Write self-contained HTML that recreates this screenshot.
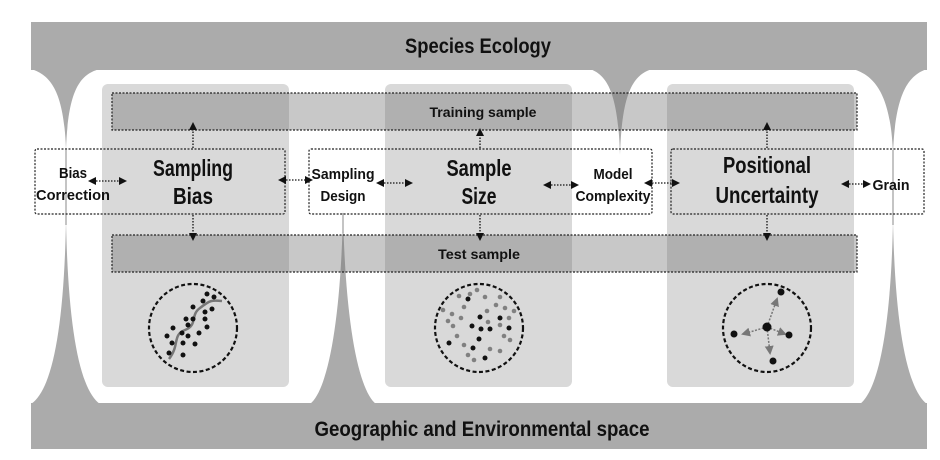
<!DOCTYPE html>
<html><head><meta charset="utf-8"><style>
html,body{margin:0;padding:0;background:#fff;width:940px;height:460px;overflow:hidden}
text{font-family:"Liberation Sans",sans-serif;font-weight:bold;fill:#111}
</style></head><body>
<svg width="940" height="460" viewBox="0 0 940 460" xmlns="http://www.w3.org/2000/svg">
<defs>
<marker id="ah" markerWidth="8" markerHeight="8" refX="6" refY="4" orient="auto-start-reverse" markerUnits="userSpaceOnUse">
<path d="M0,0 L8,4 L0,8 Z" fill="#111"/></marker>
<marker id="gh" markerWidth="9" markerHeight="9" refX="7" refY="4.5" orient="auto" markerUnits="userSpaceOnUse">
<path d="M0,0 L9,4.5 L0,9 Z" fill="#777"/></marker>
</defs>
<rect x="0" y="0" width="940" height="460" fill="#fff"/>
<g fill="#ababab" stroke="none">
<rect x="31" y="22" width="896" height="48"/>
<rect x="31" y="403" width="896" height="46"/>
<path d="M31,69 C50,75 64,90 66,150 C68,90 80,74 100,69 Z"/>
<path d="M31,404 C52,390 64,330 66,220 C68,330 80,390 100,404 Z"/>
<path d="M310,404 C328,390 341,320 343,210 C345,320 358,390 376,404 Z"/>
<path d="M590,69 C606,75 618,90 620,155 C622,90 634,75 652,69 Z"/>
<path d="M853,69 C872,75 891,90 893,155 C895,90 910,75 927,69 Z"/>
<path d="M860,404 C878,390 891,330 893,220 C895,330 908,390 927,404 Z"/>
<rect x="65.3" y="150" width="1.4" height="75"/>
<rect x="342.3" y="213" width="1.4" height="20"/>
<rect x="892.3" y="150" width="1.4" height="75"/>
</g>
<g fill="#d9d9d9">
<rect x="102" y="84" width="187" height="303" rx="6"/>
<rect x="385" y="84" width="187" height="303" rx="6"/>
<rect x="667" y="84" width="187" height="303" rx="6"/>
</g>
<g fill="rgba(110,110,110,0.38)" stroke="#222" stroke-width="1.2" stroke-dasharray="2,1.5">
<rect x="112" y="93" width="745" height="37"/>
<rect x="112" y="235" width="745" height="37"/>
</g>
<text x="483" y="117" font-size="14" text-anchor="middle" textLength="107" lengthAdjust="spacingAndGlyphs">Training sample</text>
<text x="479" y="259" font-size="14" text-anchor="middle" textLength="82" lengthAdjust="spacingAndGlyphs">Test sample</text>
<g fill="none" stroke="#222" stroke-width="1.2" stroke-dasharray="2,1.5">
<rect x="35" y="149" width="250" height="65" rx="2"/>
<rect x="309" y="149" width="343" height="65" rx="2"/>
<rect x="671" y="149" width="253" height="65" rx="2"/>
</g>
<text x="478" y="53" font-size="21" text-anchor="middle" textLength="146" lengthAdjust="spacingAndGlyphs">Species Ecology</text>
<text x="482" y="436" font-size="21" text-anchor="middle" textLength="335" lengthAdjust="spacingAndGlyphs">Geographic and Environmental space</text>
<text x="193" y="176" font-size="23" text-anchor="middle" textLength="80" lengthAdjust="spacingAndGlyphs">Sampling</text>
<text x="193" y="204" font-size="23" text-anchor="middle" textLength="40" lengthAdjust="spacingAndGlyphs">Bias</text>
<text x="479" y="176" font-size="23" text-anchor="middle" textLength="65" lengthAdjust="spacingAndGlyphs">Sample</text>
<text x="479" y="204" font-size="23" text-anchor="middle" textLength="35" lengthAdjust="spacingAndGlyphs">Size</text>
<text x="767" y="173" font-size="23" text-anchor="middle" textLength="88" lengthAdjust="spacingAndGlyphs">Positional</text>
<text x="767" y="203" font-size="23" text-anchor="middle" textLength="103" lengthAdjust="spacingAndGlyphs">Uncertainty</text>
<text x="73" y="178" font-size="15" text-anchor="middle" textLength="28" lengthAdjust="spacingAndGlyphs">Bias</text>
<text x="73" y="200" font-size="15" text-anchor="middle" textLength="74" lengthAdjust="spacingAndGlyphs">Correction</text>
<text x="343" y="179" font-size="15" text-anchor="middle" textLength="63" lengthAdjust="spacingAndGlyphs">Sampling</text>
<text x="343" y="201" font-size="15" text-anchor="middle" textLength="45" lengthAdjust="spacingAndGlyphs">Design</text>
<text x="613" y="179" font-size="15" text-anchor="middle" textLength="39" lengthAdjust="spacingAndGlyphs">Model</text>
<text x="613" y="201" font-size="15" text-anchor="middle" textLength="75" lengthAdjust="spacingAndGlyphs">Complexity</text>
<text x="891" y="190" font-size="15" text-anchor="middle" textLength="37" lengthAdjust="spacingAndGlyphs">Grain</text>
<g stroke="#111" stroke-width="1.3" stroke-dasharray="1.5,1.5" fill="none" marker-start="url(#ah)" marker-end="url(#ah)">
<line x1="90" y1="181" x2="125" y2="181"/>
<line x1="280" y1="180" x2="311" y2="180"/>
<line x1="378" y1="183" x2="411" y2="183"/>
<line x1="545" y1="185" x2="577" y2="185"/>
<line x1="646" y1="183" x2="678" y2="183"/>
<line x1="843" y1="184" x2="869" y2="184"/>
</g>
<g stroke="#111" stroke-width="1.3" stroke-dasharray="1.5,1.5" fill="none" marker-end="url(#ah)">
<line x1="193" y1="148" x2="193" y2="124"/>
<line x1="480" y1="148" x2="480" y2="130"/>
<line x1="767" y1="148" x2="767" y2="124"/>
<line x1="193" y1="215" x2="193" y2="239"/>
<line x1="480" y1="215" x2="480" y2="239"/>
<line x1="767" y1="215" x2="767" y2="239"/>
</g>
<g fill="none" stroke="#111" stroke-width="2.2" stroke-dasharray="4,2.5">
<circle cx="193" cy="328" r="44"/>
<circle cx="479" cy="328" r="44"/>
<circle cx="767" cy="328" r="44"/>
</g>
<path d="M169,359 C180,345 172,335 185,330 C198,325 190,315 200,308 C210,300 212,300 222,301" fill="none" stroke="#777" stroke-width="2.5"/>
<g fill="#111">
<circle cx="207" cy="294" r="2.5"/><circle cx="214" cy="297" r="2.5"/><circle cx="193" cy="307" r="2.5"/><circle cx="203" cy="301" r="2.5"/><circle cx="212" cy="309" r="2.5"/><circle cx="186" cy="319" r="2.5"/><circle cx="193" cy="319" r="2.5"/><circle cx="205" cy="312" r="2.5"/><circle cx="205" cy="319" r="2.5"/><circle cx="188" cy="325" r="2.5"/><circle cx="207" cy="327" r="2.5"/><circle cx="173" cy="328" r="2.5"/><circle cx="182" cy="333" r="2.5"/><circle cx="199" cy="333" r="2.5"/><circle cx="167" cy="336" r="2.5"/><circle cx="188" cy="336" r="2.5"/><circle cx="172" cy="343" r="2.5"/><circle cx="183" cy="343" r="2.5"/><circle cx="195" cy="344" r="2.5"/><circle cx="169" cy="353" r="2.5"/><circle cx="183" cy="355" r="2.5"/>
</g>
<g fill="#808080">
<circle cx="459" cy="296" r="2.3"/><circle cx="470" cy="294" r="2.3"/><circle cx="477" cy="290" r="2.3"/><circle cx="485" cy="297" r="2.3"/><circle cx="500" cy="297" r="2.3"/><circle cx="443" cy="310" r="2.3"/><circle cx="464" cy="307" r="2.3"/><circle cx="496" cy="305" r="2.3"/><circle cx="505" cy="308" r="2.3"/><circle cx="514" cy="311" r="2.3"/><circle cx="452" cy="314" r="2.3"/><circle cx="487" cy="311" r="2.3"/><circle cx="461" cy="318" r="2.3"/><circle cx="448" cy="321" r="2.3"/><circle cx="488" cy="322" r="2.3"/><circle cx="453" cy="326" r="2.3"/><circle cx="509" cy="318" r="2.3"/><circle cx="500" cy="325" r="2.3"/><circle cx="457" cy="336" r="2.3"/><circle cx="504" cy="336" r="2.3"/><circle cx="510" cy="340" r="2.3"/><circle cx="464" cy="345" r="2.3"/><circle cx="490" cy="349" r="2.3"/><circle cx="500" cy="351" r="2.3"/><circle cx="468" cy="355" r="2.3"/><circle cx="474" cy="360" r="2.3"/>
</g>
<g fill="#111">
<circle cx="468" cy="299" r="2.5"/><circle cx="480" cy="317" r="2.5"/><circle cx="500" cy="318" r="2.5"/><circle cx="472" cy="326" r="2.5"/><circle cx="481" cy="329" r="2.5"/><circle cx="490" cy="329" r="2.5"/><circle cx="509" cy="328" r="2.5"/><circle cx="479" cy="339" r="2.5"/><circle cx="449" cy="343" r="2.5"/><circle cx="473" cy="348" r="2.5"/><circle cx="485" cy="358" r="2.5"/>
</g>
<g stroke="#777" stroke-width="1.5" stroke-dasharray="2,1.5" fill="none" marker-end="url(#gh)">
<line x1="767" y1="327" x2="777" y2="299"/>
<line x1="767" y1="327" x2="743" y2="334"/>
<line x1="767" y1="327" x2="785" y2="334"/>
<line x1="767" y1="327" x2="770" y2="353"/>
</g>
<g fill="#111">
<circle cx="767" cy="327" r="4.5"/><circle cx="781" cy="292" r="3.5"/><circle cx="734" cy="334" r="3.5"/><circle cx="789" cy="335" r="3.5"/><circle cx="773" cy="361" r="3.5"/>
</g>
</svg>
</body></html>
